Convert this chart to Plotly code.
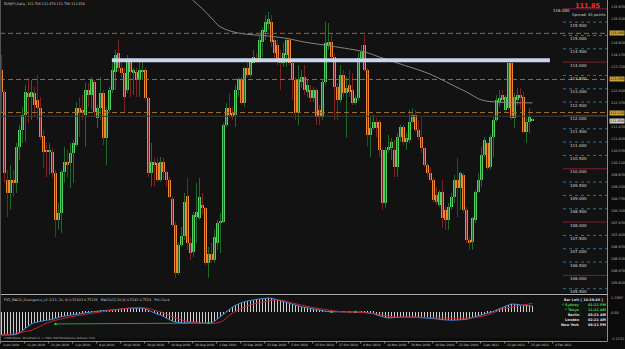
import plotly.graph_objects as go

W, H = 625, 349

# ---------------- data (EURJPY daily) ----------------
opens = [113.70,112.88,109.58,109.09,109.58,109.47,110.82,111.46,112.02,112.84,
         112.69,112.84,112.58,112.28,111.23,110.71,110.63,110.63,109.84,108.08,
         108.34,109.88,110.26,110.22,110.59,110.89,112.28,112.20,112.02,112.96,
         112.77,113.26,111.91,112.28,112.84,111.16,112.21,112.96,113.63,114.34,
         113.78,113.59,112.96,114.00,113.59,113.63,113.33,113.63,113.71,112.66,
         109.84,110.26,110.22,109.58,110.26,109.88,109.58,108.87,107.89,106.09,
         107.14,107.48,108.98,107.22,106.88,108.19,108.16,108.64,108.53,106.47,
         106.80,106.58,107.22,107.97,108.00,111.64,112.28,112.09,112.02,112.96,
         113.37,112.47,113.78,113.52,113.97,114.15,114.08,114.76,115.13,115.43,
         115.51,114.83,114.64,114.15,113.97,114.27,114.83,113.97,113.33,112.09,
         113.26,113.44,112.88,112.96,112.66,112.96,112.21,111.94,113.26,114.64,
         114.76,114.19,113.07,112.58,113.52,112.84,113.14,112.96,112.47,112.66,
         114.15,114.64,113.71,111.27,111.53,111.76,111.76,110.71,108.72,110.71,
         110.78,110.71,110.07,111.19,111.57,111.01,111.08,111.76,112.02,111.46,
         111.19,110.78,110.14,109.84,109.58,109.02,108.64,109.13,108.46,108.08,
         108.57,108.94,109.58,109.28,109.77,108.46,107.33,107.26,108.08,109.13,
         109.58,110.52,110.97,110.07,111.19,111.83,112.47,112.77,112.21,112.28,
         113.97,111.91,112.58,112.77,112.69,111.38,111.76,111.798]
highs = [114.27,112.96,109.96,110.14,109.96,110.97,111.64,112.32,113.14,113.41,
         113.33,113.07,113.52,112.69,111.46,110.97,110.97,110.78,109.96,108.72,
         109.96,110.82,110.71,110.97,111.08,112.50,112.69,112.77,113.22,113.22,
         113.44,113.33,112.39,113.44,112.96,112.32,113.07,113.97,114.46,114.83,
         114.00,113.82,114.27,114.15,113.78,113.78,114.00,114.00,113.78,112.69,
         110.97,110.44,110.41,110.44,110.41,109.96,109.69,108.94,108.00,107.22,
         107.82,109.09,109.66,107.44,108.38,109.47,109.66,109.09,108.57,107.07,
         107.22,107.71,108.08,108.34,111.72,112.47,112.84,112.32,113.14,113.44,
         113.44,113.82,113.97,114.15,114.46,114.34,114.98,115.28,115.77,115.88,
         115.77,114.91,114.83,114.46,114.72,114.91,114.91,114.00,113.44,113.89,
         113.71,113.89,113.33,113.14,113.07,113.03,112.39,113.33,115.51,115.47,
         115.09,114.34,113.22,113.89,113.71,113.44,113.71,113.59,112.77,114.34,
         114.64,115.02,113.78,111.94,112.02,111.91,111.83,110.78,110.82,111.27,
         111.16,111.08,111.34,111.64,111.64,111.34,112.21,112.28,112.21,111.83,
         111.94,110.82,110.22,110.07,109.66,109.32,109.20,109.58,108.57,108.72,
         109.09,109.77,110.41,109.88,109.85,108.57,107.44,108.19,109.20,109.84,
         110.82,111.19,111.01,111.27,111.94,112.77,112.96,112.96,112.77,114.08,
         114.00,112.84,113.03,113.03,112.88,111.91,112.28,111.878]
lows = [112.09,109.47,108.19,108.46,108.94,109.09,110.33,110.97,111.01,111.72,
        111.83,111.94,111.83,111.08,110.03,109.69,109.77,109.66,107.44,107.71,
        107.59,109.47,109.69,109.28,109.47,110.82,111.19,111.83,110.82,112.32,
        112.21,111.94,111.53,111.83,110.89,110.14,112.09,112.84,112.96,113.63,
        113.41,112.13,112.84,112.69,112.77,112.69,112.69,113.33,112.58,109.69,
        109.32,109.32,109.51,109.51,109.58,109.32,108.91,107.82,105.91,106.02,
        107.07,107.33,106.96,106.58,106.69,107.22,108.08,108.27,106.39,105.91,
        106.47,106.47,106.96,106.84,107.97,111.57,111.94,111.83,111.57,112.69,
        112.39,112.32,113.44,113.44,113.96,113.97,113.97,114.19,114.83,115.21,
        114.57,114.08,113.89,112.96,113.82,113.82,113.89,112.58,111.83,111.64,
        113.03,112.77,112.69,112.50,112.50,111.64,111.64,111.83,113.14,114.46,
        114.08,111.83,111.83,112.47,112.69,111.16,112.69,112.39,112.39,112.58,
        113.97,113.63,110.82,110.44,111.46,111.19,110.44,108.46,108.53,110.59,
        110.33,109.69,109.69,111.01,110.89,110.71,110.97,111.72,111.38,111.08,
        110.59,110.07,109.69,109.51,108.72,108.64,108.57,107.78,107.71,107.71,
        108.46,108.72,108.19,108.46,108.34,107.22,106.96,106.96,107.97,109.09,
        109.32,110.44,109.96,109.96,110.44,111.76,112.32,112.47,112.13,112.21,
        111.83,111.53,112.39,112.21,111.34,110.97,111.34,111.798]
closes = [112.88,109.84,109.09,109.58,109.47,110.82,111.46,112.02,112.88,112.69,
          112.88,112.39,112.28,111.19,110.63,110.63,110.71,109.84,108.08,108.34,
          109.88,110.26,110.14,110.59,110.97,112.28,112.09,112.09,112.96,112.77,
          113.33,112.13,112.28,112.84,111.16,112.21,112.96,113.71,114.27,113.78,
          113.59,112.69,114.00,113.63,113.71,113.33,113.71,113.71,112.66,109.84,
          110.26,110.14,109.58,110.26,109.88,109.58,108.94,107.89,106.09,107.14,
          107.48,108.76,107.22,106.84,108.27,108.38,108.94,108.53,106.47,106.80,
          106.58,107.44,107.97,108.00,111.64,112.28,112.02,111.94,112.96,113.37,
          112.47,113.78,113.52,114.00,114.19,114.00,114.83,115.21,115.51,115.62,
          114.76,114.34,114.08,113.97,114.34,114.83,113.97,113.33,112.09,113.33,
          113.44,112.96,113.14,112.66,112.96,111.94,111.94,113.26,114.72,114.76,
          114.19,113.07,112.58,113.52,112.84,113.03,112.88,112.47,112.66,114.15,
          114.38,113.71,111.27,111.53,111.76,111.53,110.71,108.72,110.71,110.82,
          111.01,110.07,111.19,111.57,111.01,111.16,111.76,112.02,111.46,111.19,
          110.78,110.14,109.84,109.58,108.83,108.76,109.13,108.16,108.08,108.57,
          108.94,109.58,109.28,109.84,108.46,107.33,107.22,108.16,109.13,109.58,
          110.52,111.08,110.03,111.19,111.83,112.58,112.66,112.58,112.69,113.97,
          111.91,112.69,112.77,112.66,111.38,111.76,111.94,111.854]

# moving average (grey line), read at selected bars
ma_bars = [60, 64, 67, 70, 73, 79, 89, 96, 101, 110, 121, 126, 131, 141, 145,
           151, 155, 160, 166, 177]
ma_vals = [116.75, 116.30, 116.00, 115.65, 115.32, 115.09, 114.98, 114.87,
           114.75, 114.60, 114.38, 114.19, 114.00, 113.63, 113.44, 113.10,
           112.88, 112.58, 112.50, 112.47]

# MACD main (histogram + blue line)
macd = [-2.00,-2.02,-2.02,-2.00,-1.98,-1.95,
        -1.83,-1.62,-1.40,-1.18,-1.02, -0.93,-0.86,-0.80,-0.76,-0.72,
        -0.70,-0.64,-0.56,-0.47,-0.40, -0.36,-0.33,-0.30,-0.27,-0.24,
        -0.18,-0.12,-0.07,-0.02,0.02, 0.05,0.07,0.09,0.12,0.15,
        0.18,0.21,0.24,0.26,0.28, 0.29,0.31,0.32,0.33,0.34,
        0.35,0.33,0.27,0.14,0.00, -0.10,-0.20,-0.26,-0.40,-0.55,
        -0.68,-0.80,-0.87,-0.92,-0.95, -0.96,-0.95,-0.90,-0.87,-0.90,
        -0.96,-0.98,-0.98,-0.97,-0.94, -0.80,-0.62,-0.43,-0.20,0.02,
        0.25,0.43,0.58,0.72,0.82, 0.90,0.96,1.01,1.06,1.10,
        1.13,1.17,1.20,1.22,1.20, 1.12,1.04,0.98,0.90,0.83,
        0.78,0.70,0.60,0.52,0.45, 0.40,0.36,0.33,0.30,0.26,
        0.18,0.10,0.05,0.03,0.02, 0.01,0.00,0.00,0.01,0.00,
        -0.01,0.00,0.00,0.00,0.01, -0.03,-0.06,-0.09,-0.15,-0.25,
        -0.35,-0.43,-0.48,-0.52,-0.52, -0.50,-0.48,-0.46,-0.44,-0.43,
        -0.43,-0.44,-0.46,-0.48,-0.50, -0.52,-0.52,-0.52,-0.55,-0.60,
        -0.65,-0.68,-0.70,-0.72,-0.72, -0.71,-0.70,-0.70,-0.68,-0.64,
        -0.57,-0.50,-0.43,-0.35,-0.27, -0.18,-0.10,-0.03,0.05,0.18,
        0.30,0.42,0.55,0.61,0.70, 0.70,0.66,0.62,0.60,0.57,
        0.54,0.52]
# signal line (red), read at selected bars
sig_bars = [0, 10, 16, 23, 33, 43, 48, 53, 60, 66, 73, 77, 83, 89, 93, 97, 103,
            109, 114, 120, 125, 131, 136, 147, 156, 162, 167, 172, 177]
sig_vals = [-2.00, -1.57, -0.87, -0.43, 0.00, 0.35, 0.35, 0.00, -0.70, -0.96,
            -0.87, -0.09, 0.61, 0.96, 1.04, 0.78, 0.43, 0.17, 0.00, -0.04,
            -0.17, -0.43, -0.43, -0.52, -0.52, -0.26, 0.26, 0.52, 0.75]
# divergence line + arrows (green)
div_bars = [18, 68]
div_vals = [-1.04, -0.96]
arrow_bars = [18, 69, 110, 118]
arrow_vals = [-1.04, -0.96, 0.0, 0.0]

date_labels = ["2 Jun 2010", "11 Jun 2010", "21 Jun 2010", "1 Jul 2010",
               "9 Jul 2010", "19 Jul 2010", "29 Jul 2010", "10 Aug 2010",
               "20 Aug 2010", "1 Sep 2010", "13 Sep 2010", "23 Sep 2010",
               "5 Oct 2010", "15 Oct 2010", "27 Oct 2010", "8 Nov 2010",
               "18 Nov 2010", "30 Nov 2010", "10 Dec 2010", "22 Dec 2010",
               "3 Jan 2011", "13 Jan 2011", "25 Jan 2011", "4 Feb 2011"]

ax_vals = [115.97, 115.52, 115.07, 114.62, 114.17, 113.72, 113.27, 112.82, 112.37,
           111.92, 111.47, 111.02, 110.57, 110.12, 109.67, 109.22, 108.77, 108.32,
           107.87, 107.42, 106.97, 106.52, 106.07, 105.62]

hlines_dashed = [115.08, 113.35, 112.11]
trend_level = 114.07
trend_from, trend_to = 36.8, 182.8

# ---------------- geometry helpers ----------------
PLOT_R = 607          # right edge of chart area (px)
MAIN_B = 293          # bottom of price pane (px)
SUB_T, SUB_B = 296, 338
P_TOP, P_BOT = 116.33, 105.34
px_per_bar = 3.0
x_lo = -0.5
x_hi = x_lo + PLOT_R / px_per_bar
FONT = "DejaVu Sans"


def fx(px):
    return px / W


def fy(py):
    return 1 - py / H


def ypx(price):
    return (P_TOP - price) / (P_TOP - P_BOT) * MAIN_B


n = len(closes)
idx = list(range(n))

BULL, BEAR = "#52cf5e", "#f0862e"
BULL_W, BEAR_W = "#1f6a29", "#7a2222"
BG = "#121212"

fig = go.Figure()

# wicks
for up, col in ((True, BULL_W), (False, BEAR_W)):
    xs, ys = [], []
    for i in idx:
        if (closes[i] >= opens[i]) == up:
            xs += [i, i, None]
            ys += [highs[i], lows[i], None]
    fig.add_trace(go.Scatter(x=xs, y=ys, mode="lines",
                             line=dict(color=col, width=1),
                             hoverinfo="skip", showlegend=False))

# bodies
bh = [max(abs(c - o), 0.035) for o, c in zip(opens, closes)]
bb = [min(o, c) for o, c in zip(opens, closes)]
bc = [BULL if c >= o else BEAR for o, c in zip(opens, closes)]
fig.add_trace(go.Bar(x=idx, y=bh, base=bb, width=0.72,
                     marker=dict(color=bc, line=dict(width=0)),
                     showlegend=False, hoverinfo="skip"))

# moving average
fig.add_trace(go.Scatter(x=ma_bars, y=ma_vals, mode="lines",
                         line=dict(color="#858585", width=1, shape="spline"),
                         showlegend=False, hoverinfo="skip"))

# MACD pane
fig.add_trace(go.Bar(x=idx, y=macd, width=0.3, yaxis="y2",
                     marker=dict(color="#cfcfcf", line=dict(width=0)),
                     showlegend=False, hoverinfo="skip"))
fig.add_trace(go.Scatter(x=div_bars, y=div_vals, yaxis="y2", mode="lines",
                         line=dict(color="#2f9a35", width=1),
                         showlegend=False, hoverinfo="skip"))
fig.add_trace(go.Scatter(x=idx, y=macd, yaxis="y2", mode="lines",
                         line=dict(color="#3f86d6", width=1),
                         showlegend=False, hoverinfo="skip"))
fig.add_trace(go.Scatter(x=sig_bars, y=sig_vals, yaxis="y2", mode="lines",
                         line=dict(color="#c42626", width=1, shape="spline"),
                         showlegend=False, hoverinfo="skip"))
fig.add_trace(go.Scatter(x=arrow_bars, y=arrow_vals, yaxis="y2", mode="markers",
                         marker=dict(color="#3ccf45", size=3, symbol="triangle-up"),
                         showlegend=False, hoverinfo="skip"))

shapes = []
annotations = []


def txt(x, y, s, size=4.0, color="#c8c8c8", anchor="left", bold=False, bg=None):
    if bold:
        s = "<b>" + s + "</b>"
    a = dict(x=fx(x), y=fy(y), xref="paper", yref="paper", text=s,
             showarrow=False, xanchor=anchor, yanchor="middle",
             font=dict(size=size, color=color, family=FONT))
    if bg:
        a.update(bgcolor=bg, borderpad=0)
    annotations.append(a)


# dashed horizontal lines
for lv in hlines_dashed:
    shapes.append(dict(type="line", xref="paper", yref="y", x0=0, x1=fx(PLOT_R),
                       y0=lv, y1=lv, line=dict(color="#9c6e24", width=1, dash="5px,3px")))
# dark line at 112
shapes.append(dict(type="line", xref="paper", yref="y", x0=0, x1=fx(PLOT_R),
                   y0=111.97, y1=111.97, line=dict(color="#3a3a3a", width=1)))
# trend line (thick light blue)
shapes.append(dict(type="line", xref="x", yref="y", x0=trend_from, x1=trend_to,
                   y0=trend_level, y1=trend_level,
                   line=dict(color="#c8d6ee", width=4)))

# level markers with labels
lv = 105.5
while lv <= 116.01:
    even = abs(lv - round(lv)) < 1e-6 and int(round(lv)) % 2 == 0
    if even:
        ln = dict(color="#7c2030", width=1)
    else:
        ln = dict(color="#2f7090", width=1, dash="dot")
    shapes.append(dict(type="line", xref="paper", yref="y", x0=fx(563), x1=fx(PLOT_R),
                       y0=lv, y1=lv, line=ln))
    if lv > 115.9:
        txt(572, ypx(lv) + 1.5, "%.3f" % lv, 4.0, "#d8d8d8", anchor="right")
    else:
        txt(578, ypx(lv) + 3.0, "%.3f" % lv, 4.0, "#d8d8d8", anchor="center")
    lv = round(lv + 0.5, 3)

# frame lines
line_gray = dict(color="#8c8c8c", width=1)
shapes += [
    dict(type="line", xref="paper", yref="paper", x0=fx(PLOT_R + 0.5), x1=fx(PLOT_R + 0.5),
         y0=fy(0), y1=fy(341), line=line_gray),
    dict(type="line", xref="paper", yref="paper", x0=0, x1=fx(PLOT_R + 0.5),
         y0=fy(294.5), y1=fy(294.5), line=dict(color="#b0b0b0", width=1)),
    dict(type="line", xref="paper", yref="paper", x0=0, x1=fx(PLOT_R + 0.5),
         y0=fy(341.5), y1=fy(341.5), line=line_gray),
    dict(type="line", xref="paper", yref="paper", x0=fx(0.5), x1=fx(0.5),
         y0=fy(0), y1=fy(341.5), line=dict(color="#555555", width=1)),
]

# date labels
for k, lab in enumerate(date_labels):
    xb = 8 * k
    if xb > x_hi:
        break
    shapes.append(dict(type="line", xref="x", yref="paper", x0=xb - 0.3, x1=xb - 0.3,
                       y0=fy(341.5), y1=fy(343.5), line=line_gray))
    annotations.append(dict(x=xb - 0.1, y=fy(345.3), xref="x", yref="paper", text=lab,
                            showarrow=False, xanchor="left", yanchor="middle",
                            font=dict(size=3.0, color="#c8c8c8", family=FONT)))

# right axis price labels
hl_px = [ypx(v) for v in hlines_dashed] + [ypx(closes[-1])]
for v in ax_vals:
    yy = ypx(v) - 3
    if any(abs(yy - h) < 5 for h in hl_px):
        continue
    txt(609, yy, "%.3f" % v, 3.4, "#bdbdbd")
for v in hlines_dashed:
    txt(609, ypx(v), "%.3f" % v, 3.4, "#111111", bg="#c9a238")
txt(609, ypx(closes[-1]) + 1.5, "%.3f" % closes[-1], 3.4, "#111111", bg="#d0d0d0")

# texts
txt(2, 4, "EURJPY,Daily  111.798 111.878 111.798 111.854", 3.3)
txt(573, 6.5, "%.2f" % closes[-1], 6.5, "#ff2a2a", bold=True)
txt(570, 14, "Spread: 45 points", 3.8, "#d0d0d0")
txt(2, 299.5, "FX5_MACD_Divergence_v1.1(12, 26, 9) 0.52433 0.75239   "
    "MACD(12,26,9) 0.5243 0.7524   Pt6 Clock", 3.3)
txt(2, 338.3, "(FXDD Malta - MetaTrader 4, \u00a9 2001-2010 MetaQuotes Software Corp.", 2.6,
    "#bdbdbd")
txt(605, 299.5, "Bar Left [ 10:38:46 ]", 3.4, "#d8d8d8", anchor="right", bold=True)
clock = [("* Sydney", "01:21 PM", "#39d23f"), ("* Tokyo", "11:21 AM", "#39d23f"),
         ("Berlin", "03:21 AM", "#e0e0e0"), ("London", "02:21 AM", "#e0e0e0"),
         ("New York", "09:21 PM", "#e0e0e0")]
for k, (city, tm, col) in enumerate(clock):
    yy = 304.5 + 5 * k
    txt(582, yy, city, 3.4, col, anchor="right", bold=True)
    txt(586, yy, tm, 3.4, col, anchor="left", bold=True)
txt(609, 298, "1.7097", 3.4, "#bdbdbd")
txt(609, 313, "0.00", 3.4, "#bdbdbd")
txt(609, 339, "-1.1232", 3.4, "#bdbdbd")

fig.update_layout(
    width=W, height=H, margin=dict(l=0, r=0, t=0, b=0),
    paper_bgcolor="#0b0b0b", plot_bgcolor=BG,
    barmode="overlay", bargap=0, showlegend=False,
    xaxis=dict(domain=[0, fx(PLOT_R)], range=[x_lo, x_hi], showgrid=False,
               zeroline=False, showticklabels=False, ticks="", fixedrange=True),
    yaxis=dict(domain=[fy(MAIN_B), 1], range=[P_BOT, P_TOP], showgrid=False,
               zeroline=False, showticklabels=False, ticks="", fixedrange=True),
    yaxis2=dict(domain=[fy(SUB_B), fy(SUB_T)], range=[-2.26, 1.39], showgrid=False,
                zeroline=False, showticklabels=False, ticks="", fixedrange=True,
                anchor="x"),
    shapes=shapes, annotations=annotations,
)
fig.write_html("out.html")
